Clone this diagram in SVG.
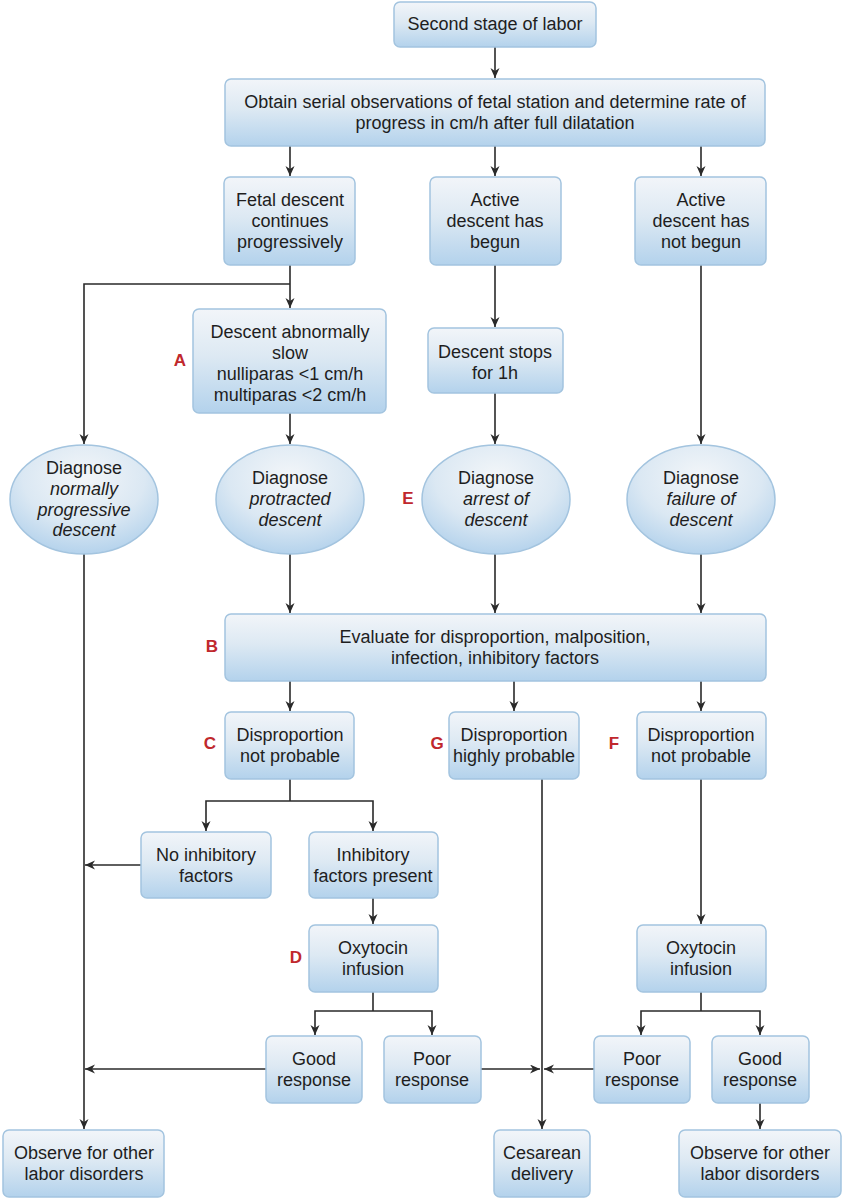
<svg xmlns="http://www.w3.org/2000/svg" width="842" height="1200" viewBox="0 0 842 1200">
<defs>
<linearGradient id="gb" x1="0" y1="0" x2="0" y2="1">
<stop offset="0" stop-color="#f2f5f9"/>
<stop offset="0.45" stop-color="#dde9f3"/>
<stop offset="1" stop-color="#b3d2ec"/>
</linearGradient>
<radialGradient id="ge" cx="0.5" cy="0.3" r="0.75">
<stop offset="0" stop-color="#f3f6f9"/>
<stop offset="0.55" stop-color="#dbe8f3"/>
<stop offset="1" stop-color="#aecfeb"/>
</radialGradient>
<marker id="ah" markerUnits="userSpaceOnUse" markerWidth="12" markerHeight="10" refX="10" refY="4.5" orient="auto">
<path d="M0,0 L10,4.5 L0,9 L3,4.5 z" fill="#2a2a2a"/>
</marker>
<style>
.b{fill:url(#gb);stroke:#a3c4df;stroke-width:1.5}
.e{fill:url(#ge);stroke:#a3c4df;stroke-width:1.5}
text{font-family:"Liberation Sans",Arial,sans-serif;font-size:18px;fill:#1e1e1e;text-anchor:middle}
.i{font-style:italic}
.l{font-weight:bold;fill:#c0282d;font-size:17px}
.c path{fill:none;stroke:#2a2a2a;stroke-width:1.6}
.c .a{marker-end:url(#ah)}
</style>
</defs>
<rect width="842" height="1200" fill="#ffffff"/>

<g class="c" id="connectors">
<path class="a" d="M495,47 V78"/>
<path class="a" d="M290,146 V176"/>
<path class="a" d="M495,146 V176"/>
<path class="a" d="M701,146 V176"/>
<path class="a" d="M290,265 V308"/>
<path class="a" d="M290,284 H84 V444"/>
<path class="a" d="M495,265 V327"/>
<path class="a" d="M701,265 V444"/>
<path class="a" d="M290,413 V444"/>
<path class="a" d="M495,393 V444"/>
<path class="a" d="M84,554 V1129"/>
<path class="a" d="M290,554 V613"/>
<path class="a" d="M495,554 V613"/>
<path class="a" d="M701,554 V613"/>
<path class="a" d="M290,681 V711"/>
<path class="a" d="M514,681 V711"/>
<path class="a" d="M701,681 V711"/>
<path d="M290,779 V801"/>
<path class="a" d="M290,801 H206 V831"/>
<path class="a" d="M290,801 H373 V831"/>
<path class="a" d="M141,865 H85"/>
<path class="a" d="M542,779 V1129"/>
<path class="a" d="M701,779 V924"/>
<path class="a" d="M373,898 V924"/>
<path d="M373,992 V1011"/>
<path class="a" d="M373,1011 H315 V1035"/>
<path class="a" d="M373,1011 H432 V1035"/>
<path d="M701,992 V1011"/>
<path class="a" d="M701,1011 H641 V1035"/>
<path class="a" d="M701,1011 H760 V1035"/>
<path class="a" d="M266,1069 H85"/>
<path class="a" d="M481,1069 H540"/>
<path class="a" d="M594,1069 H544"/>
<path class="a" d="M760,1103 V1129"/>
</g>

<g id="n_second"><rect class="b" x="394" y="2" width="202" height="45" rx="6"/><text x="495" y="30">Second stage of labor</text></g>
<g id="n_obtain"><rect class="b" x="225" y="79" width="540" height="67" rx="6"/><text x="495" y="107.5">Obtain serial observations of fetal station and determine rate of</text><text x="495" y="128.5">progress in cm/h after full dilatation</text></g>
<g id="n_fetal"><rect class="b" x="224" y="177" width="131" height="88" rx="6"/><text x="290" y="205.5">Fetal descent</text><text x="290" y="226.5">continues</text><text x="290" y="247.5">progressively</text></g>
<g id="n_begun"><rect class="b" x="430" y="177" width="131" height="88" rx="6"/><text x="495" y="205.5">Active</text><text x="495" y="226.5">descent has</text><text x="495" y="247.5">begun</text></g>
<g id="n_notbegun"><rect class="b" x="635" y="177" width="131" height="88" rx="6"/><text x="701" y="205.5">Active</text><text x="701" y="226.5">descent has</text><text x="701" y="247.5">not begun</text></g>
<g id="n_slow"><rect class="b" x="193" y="309" width="193" height="104" rx="6"/><text x="290" y="337.5">Descent abnormally</text><text x="290" y="358.5">slow</text><text x="290" y="379.5">nulliparas &lt;1 cm/h</text><text x="290" y="400.5">multiparas &lt;2 cm/h</text><text class="l" x="180" y="366">A</text></g>
<g id="n_stops"><rect class="b" x="428" y="328" width="135" height="65" rx="6"/><text x="495" y="357.5">Descent stops</text><text x="495" y="378.5">for 1h</text></g>
<g id="n_normal"><ellipse class="e" cx="84" cy="499.5" rx="74" ry="54.5"/><text x="84" y="473.5">Diagnose</text><text class="i" x="84" y="494.5">normally</text><text class="i" x="84" y="515.5">progressive</text><text class="i" x="84" y="535.5">descent</text></g>
<g id="n_protracted"><ellipse class="e" cx="290" cy="499.5" rx="74" ry="54.5"/><text x="290" y="483.5">Diagnose</text><text class="i" x="290" y="504.5">protracted</text><text class="i" x="290" y="525.5">descent</text></g>
<g id="n_arrest"><ellipse class="e" cx="496" cy="499.5" rx="74" ry="54.5"/><text x="496" y="483.5">Diagnose</text><text class="i" x="496" y="504.5">arrest of</text><text class="i" x="496" y="525.5">descent</text><text class="l" x="408" y="504">E</text></g>
<g id="n_failure"><ellipse class="e" cx="701" cy="499.5" rx="74" ry="54.5"/><text x="701" y="483.5">Diagnose</text><text class="i" x="701" y="504.5">failure of</text><text class="i" x="701" y="525.5">descent</text></g>
<g id="n_evaluate"><rect class="b" x="225" y="614" width="541" height="67" rx="6"/><text x="495" y="642.5">Evaluate for disproportion, malposition,</text><text x="495" y="663.5">infection, inhibitory factors</text><text class="l" x="212" y="652">B</text></g>
<g id="n_c"><rect class="b" x="225" y="712" width="129" height="67" rx="6"/><text x="290" y="740.5">Disproportion</text><text x="290" y="761.5">not probable</text><text class="l" x="210" y="749">C</text></g>
<g id="n_g"><rect class="b" x="449" y="712" width="130" height="67" rx="6"/><text x="514" y="740.5">Disproportion</text><text x="514" y="761.5">highly probable</text><text class="l" x="437" y="749">G</text></g>
<g id="n_f"><rect class="b" x="637" y="712" width="129" height="67" rx="6"/><text x="701" y="740.5">Disproportion</text><text x="701" y="761.5">not probable</text><text class="l" x="614" y="749">F</text></g>
<g id="n_noinhib"><rect class="b" x="141" y="832" width="130" height="66" rx="6"/><text x="206" y="860.5">No inhibitory</text><text x="206" y="881.5">factors</text></g>
<g id="n_inhib"><rect class="b" x="309" y="832" width="129" height="66" rx="6"/><text x="373" y="860.5">Inhibitory</text><text x="373" y="881.5">factors present</text></g>
<g id="n_oxyD"><rect class="b" x="309" y="925" width="129" height="67" rx="6"/><text x="373" y="953.5">Oxytocin</text><text x="373" y="974.5">infusion</text><text class="l" x="296" y="963">D</text></g>
<g id="n_oxyR"><rect class="b" x="637" y="925" width="129" height="67" rx="6"/><text x="701" y="953.5">Oxytocin</text><text x="701" y="974.5">infusion</text></g>
<g id="n_goodL"><rect class="b" x="266" y="1036" width="96" height="67" rx="6"/><text x="314" y="1064.5">Good</text><text x="314" y="1085.5">response</text></g>
<g id="n_poorL"><rect class="b" x="384" y="1036" width="97" height="67" rx="6"/><text x="432" y="1064.5">Poor</text><text x="432" y="1085.5">response</text></g>
<g id="n_poorR"><rect class="b" x="594" y="1036" width="96" height="67" rx="6"/><text x="642" y="1064.5">Poor</text><text x="642" y="1085.5">response</text></g>
<g id="n_goodR"><rect class="b" x="712" y="1036" width="97" height="67" rx="6"/><text x="760" y="1064.5">Good</text><text x="760" y="1085.5">response</text></g>
<g id="n_obsL"><rect class="b" x="3" y="1130" width="161" height="67" rx="6"/><text x="84" y="1158.5">Observe for other</text><text x="84" y="1179.5">labor disorders</text></g>
<g id="n_cesarean"><rect class="b" x="494" y="1130" width="96" height="67" rx="6"/><text x="542" y="1158.5">Cesarean</text><text x="542" y="1179.5">delivery</text></g>
<g id="n_obsR"><rect class="b" x="679" y="1130" width="162" height="67" rx="6"/><text x="760" y="1158.5">Observe for other</text><text x="760" y="1179.5">labor disorders</text></g>
</svg>
